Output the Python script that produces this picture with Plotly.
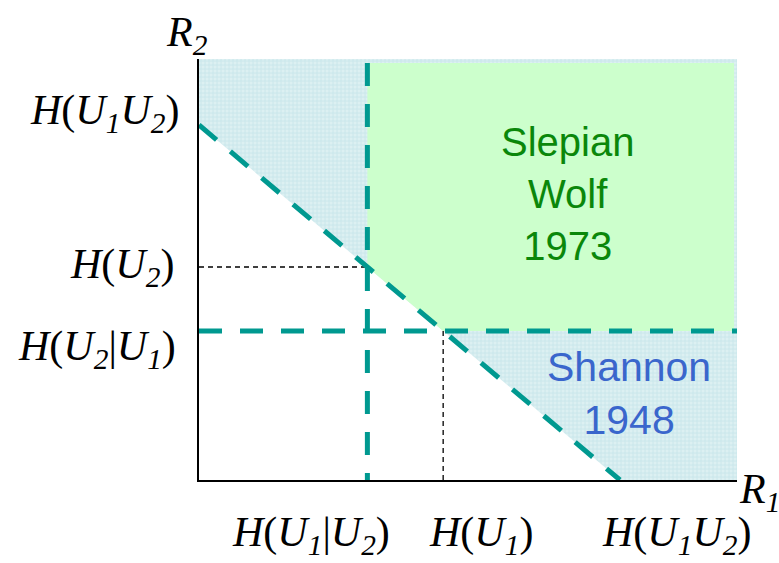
import plotly.graph_objects as go

# Entropies (normalised so that the joint entropy is 1)
H_U1 = 0.58
H_U2 = 0.60
H_U1U2 = 1.0
H_U1_given_U2 = 0.40
H_U2_given_U1 = 0.42

# Extent of the rate plane that is drawn
X_MAX = 1.278
Y_MAX = 1.186
GREEN_X_MAX = 1.271
GREEN_Y_MAX = 1.175

TEAL = "#009990"
SERIF = "Liberation Serif"
SANS = "Liberation Sans"

fig = go.Figure()

# Shannon (1948): separate encoding, R1 + R2 >= H(U1U2)
fig.add_trace(go.Scatter(
    x=[0, 0, X_MAX, X_MAX, H_U1U2, 0],
    y=[H_U1U2, Y_MAX, Y_MAX, 0, 0, H_U1U2],
    mode="lines", fill="toself", line=dict(width=0),
    fillcolor="#cfe9ed",
    fillpattern=dict(shape="+", fgcolor="#b6dce2", bgcolor="#dcf0f2",
                     size=4, solidity=0.4),
    hoverinfo="skip", showlegend=False,
))

# Slepian-Wolf (1973) achievable region
fig.add_trace(go.Scatter(
    x=[H_U1_given_U2, GREEN_X_MAX, GREEN_X_MAX, H_U1, H_U1_given_U2, H_U1_given_U2],
    y=[GREEN_Y_MAX, GREEN_Y_MAX, H_U2_given_U1, H_U2_given_U1, H_U2, GREEN_Y_MAX],
    mode="lines", fill="toself", line=dict(width=0),
    fillcolor="#ccffcc", hoverinfo="skip", showlegend=False,
))

# Thin guides to the marginal entropies
guide = dict(color="black", width=1.3, dash="5px,4px")
fig.add_trace(go.Scatter(
    x=[0, H_U1_given_U2], y=[H_U2, H_U2], mode="lines", line=guide,
    hoverinfo="skip", showlegend=False,
))
fig.add_trace(go.Scatter(
    x=[H_U1, H_U1], y=[H_U2_given_U1, 0], mode="lines", line=guide,
    hoverinfo="skip", showlegend=False,
))

# Rate bounds (dashed teal)
teal_line = dict(color=TEAL, width=5, dash="23px,18px")
fig.add_trace(go.Scatter(
    x=[0, H_U1U2], y=[H_U1U2, 0], mode="lines", line=teal_line,
    hoverinfo="skip", showlegend=False,
))
fig.add_trace(go.Scatter(
    x=[H_U1_given_U2, H_U1_given_U2], y=[GREEN_Y_MAX, 0], mode="lines",
    line=teal_line, hoverinfo="skip", showlegend=False,
))
fig.add_trace(go.Scatter(
    x=[0, X_MAX], y=[H_U2_given_U1, H_U2_given_U1], mode="lines",
    line=teal_line, hoverinfo="skip", showlegend=False,
))

label_font = dict(family=SERIF, size=42, color="black")

def H(*parts):
    return "<i>H</i>(" + "".join(parts) + ")"

U1 = "<i>U</i><sub><i>1</i></sub>"
U2 = "<i>U</i><sub><i>2</i></sub>"

annotations = [
    # R2 axis labels
    dict(x=0, y=H_U1U2, text=H(U1, U2), xanchor="right", yanchor="middle",
         xshift=-18, yshift=12),
    dict(x=0, y=H_U2, text=H(U2), xanchor="right", yanchor="middle",
         xshift=-23, yshift=0),
    dict(x=0, y=H_U2_given_U1, text=H(U2, "|", U1), xanchor="right",
         yanchor="middle", xshift=-21, yshift=-18),
    # R1 axis labels
    dict(x=H_U1_given_U2, y=0, text=H(U1, "|", U2), xanchor="center",
         yanchor="middle", xshift=-56, yshift=-55),
    dict(x=H_U1, y=0, text=H(U1), xanchor="center", yanchor="middle",
         xshift=38, yshift=-55),
    dict(x=H_U1U2, y=0, text=H(U1, U2), xanchor="center", yanchor="middle",
         xshift=57, yshift=-55),
    # Axis titles
    dict(x=0, y=Y_MAX, text="<i>R</i><sub><i>2</i></sub>", xanchor="center",
         yanchor="middle", xshift=-12, yshift=24),
    dict(x=X_MAX, y=0, text="<i>R</i><sub><i>1</i></sub>", xanchor="left",
         yanchor="middle", xshift=0, yshift=-12),
]
for a in annotations:
    a.update(xref="x", yref="y", showarrow=False, font=label_font)

# Region names
annotations.append(dict(
    x=0.876, y=0.806, xref="x", yref="y", showarrow=False,
    text="Slepian<br>Wolf<br>1973", align="center",
    font=dict(family=SANS, size=40, color="#0a870a"),
))
annotations.append(dict(
    x=1.021, y=0.245, xref="x", yref="y", showarrow=False,
    text="Shannon<br>1948", align="center",
    font=dict(family=SANS, size=41, color="#3a66cc"),
))

fig.update_layout(
    width=779, height=563,
    margin=dict(l=199, r=42, t=59, b=83),
    paper_bgcolor="white", plot_bgcolor="white",
    annotations=annotations,
    xaxis=dict(range=[0, X_MAX], showgrid=False, zeroline=False,
               showticklabels=False, ticks="", showline=True,
               linecolor="black", linewidth=2, fixedrange=True),
    yaxis=dict(range=[0, Y_MAX], showgrid=False, zeroline=False,
               showticklabels=False, ticks="", showline=True,
               linecolor="black", linewidth=2, fixedrange=True),
)

fig.write_html("out.html")
